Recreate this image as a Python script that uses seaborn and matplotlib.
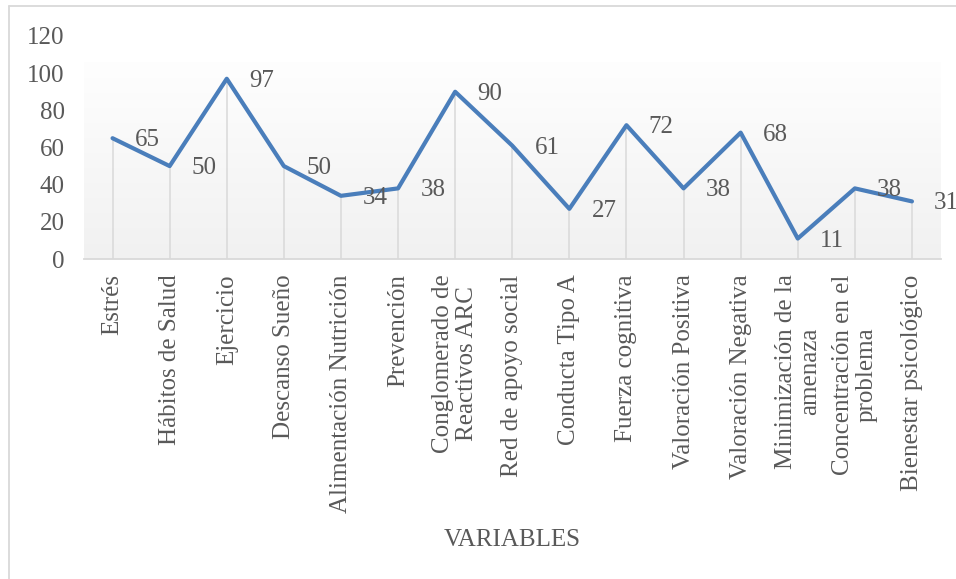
import numpy as np
import pandas as pd
import matplotlib
matplotlib.use("Agg")
import matplotlib.pyplot as plt
import seaborn as sns
from matplotlib.lines import Line2D

categories = [
    "Estrés", "Hábitos de Salud", "Ejercicio", "Descanso Sueño",
    "Alimentación Nutrición", "Prevención", "Conglomerado de\nReactivos ARC",
    "Red de apoyo social", "Conducta Tipo A", "Fuerza cognitiva",
    "Valoración Positiva", "Valoración Negativa", "Minimización de la\namenaza",
    "Concentración en el\nproblema", "Bienestar psicológico",
]
values = [65, 50, 97, 50, 34, 38, 90, 61, 27, 72, 38, 68, 11, 38, 31]
y_ticks = [0, 20, 40, 60, 80, 100, 120]
x_title = "VARIABLES"

sns.set_theme(style="white")
plt.rcParams["font.family"] = ["Liberation Serif", "DejaVu Serif"]
TXT = "#595959"
FS = 18

fig = plt.figure(figsize=(9.56, 5.79), dpi=100)
ax = fig.add_axes([84 / 956, 1 - 259 / 579, (940.5 - 84) / 956, (259 - 36) / 579])

df = pd.DataFrame({"cat": categories, "val": values})
pos = np.arange(len(categories))

# gradient background of plot area
grad = np.linspace(0, 1, 256).reshape(-1, 1)
cmap = matplotlib.colors.LinearSegmentedColormap.from_list("g", ["#f1f1f1", "#fefefe"])
ax.imshow(grad, cmap=cmap, aspect="auto", origin="lower",
          extent=[-0.5, len(categories) - 0.5, 0, 106], zorder=0)

ax.vlines(pos, 0, values, color="#d9d9d9", lw=1.1, zorder=1)
sns.lineplot(x=pos, y=df["val"], ax=ax, color="#4a7ebb", lw=3.0, sort=False, zorder=3)

for i, v in zip(pos, values):
    ax.annotate(str(v), (i, v), xytext=(16, -1.5), textcoords="offset points",
                ha="left", va="center", fontsize=FS, color=TXT, zorder=4)

ax.set_xlim(-0.5, len(categories) - 0.5)
ax.set_ylim(0, 120)
ax.set_yticks(y_ticks)
ax.set_xticks(pos)
ax.set_xticklabels(categories, rotation=90, fontsize=FS, color=TXT,
                   multialignment="center", linespacing=1.12)
ax.tick_params(axis="y", length=0, pad=14, labelsize=FS, labelcolor=TXT)
ax.tick_params(axis="x", length=0, pad=11)
ax.set_ylabel("")
ax.set_xlabel(x_title, fontsize=FS, color=TXT)
ax.xaxis.set_label_coords(0.5, -1.21)

for s in ["top", "right", "left"]:
    ax.spines[s].set_visible(False)
ax.spines["bottom"].set_color("#d9d9d9")
ax.spines["bottom"].set_linewidth(1.3)
ax.patch.set_alpha(0)

# figure border (top and left only visible)
fig.add_artist(Line2D([8.5 / 956, 1.0], [1 - 6 / 579, 1 - 6 / 579],
                      transform=fig.transFigure, color="#d9d9d9", lw=1.3))
fig.add_artist(Line2D([8.5 / 956, 8.5 / 956], [0, 1 - 6 / 579],
                      transform=fig.transFigure, color="#d9d9d9", lw=1.3))

fig.savefig("out.png", dpi=100, facecolor="white")
